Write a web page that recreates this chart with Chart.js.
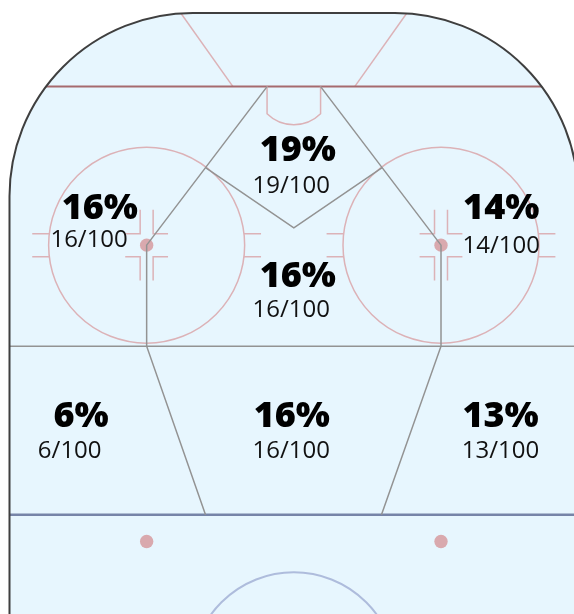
<!DOCTYPE html>
<html><head><meta charset="utf-8">
<script src="https://cdn.jsdelivr.net/npm/chart.js@4.4.1/dist/chart.umd.min.js"></script>
<style>html,body{margin:0;padding:0;background:#fff;}#wrap{width:574px;height:614px;position:relative;}</style>
</head><body><div id="wrap"><canvas id="c"></canvas></div>
<script>
// ---- data ----
const zones = ['Crease', 'Left Circle', 'Right Circle', 'Slot', 'Left Point', 'High Slot', 'Right Point'];
const made = [19, 16, 14, 16, 6, 16, 13];
const attempts = [100, 100, 100, 100, 100, 100, 100];

// ---- label anchors (rink feet) ----
const pctX = [43.1, 13.5, 73.5, 43.1, 10.7, 42.2, 73.4];
const pctY = [22.05, 30.85, 30.8, 40.9, 61.95, 61.95, 61.95];
const fracX = [42.1, 11.9, 73.5, 42.1, 9.0, 42.1, 73.4];
const fracY = [26.9, 34.95, 35.85, 45.45, 66.55, 66.55, 66.55];

// ---- zone boundary polylines (rink feet) ----
const zoneLines = [
  [[38.5, 11], [20.5, 34.7], [20.5, 49.8], [29.3, 75]],
  [[46.5, 11], [64.5, 34.7], [64.5, 49.8], [55.6, 75]],
  [[29.3, 23.1], [42.5, 32.1], [55.7, 23.1]],
  [[0, 49.8], [85, 49.8]]
];

// ---- rink geometry (feet) ----
const RINK_W = 85, CORNER_R = 27.4, GOAL_Y = 11, BLUE_Y = 75;
const FO_X = [20.5, 64.5], FO_Y = 34.7, FO_R = 14.65;
const NZ_Y = 79;

const rinkPlugin = {
  id: 'rink',
  beforeDatasetsDraw(chart) {
    const { ctx, scales: { x, y } } = chart;
    const X = v => x.getPixelForValue(v), Y = v => y.getPixelForValue(v);
    const S = X(1) - X(0);
    const path = () => {
      ctx.beginPath();
      ctx.moveTo(X(0), Y(100));
      ctx.lineTo(X(0), Y(CORNER_R));
      ctx.arc(X(CORNER_R), Y(CORNER_R), CORNER_R * S, Math.PI, 1.5 * Math.PI);
      ctx.lineTo(X(RINK_W - CORNER_R), Y(0));
      ctx.arc(X(RINK_W - CORNER_R), Y(CORNER_R), CORNER_R * S, 1.5 * Math.PI, 2 * Math.PI);
      ctx.lineTo(X(RINK_W), Y(100));
      ctx.closePath();
    };
    ctx.save();
    path();
    ctx.fillStyle = '#e7f6fe';
    ctx.fill();
    ctx.clip();
    const line = (pts, col, w) => {
      ctx.beginPath();
      pts.forEach((p, i) => i ? ctx.lineTo(X(p[0]), Y(p[1])) : ctx.moveTo(X(p[0]), Y(p[1])));
      ctx.strokeStyle = col; ctx.lineWidth = w; ctx.stroke();
    };
    const pink = '#dcb2b7';
    // trapezoid
    line([[25.6, 0], [33.4, GOAL_Y]], pink, 1.5);
    line([[59.4, 0], [51.6, GOAL_Y]], pink, 1.5);
    // goal line
    line([[0, GOAL_Y], [RINK_W, GOAL_Y]], '#a66a6e', 2);
    // crease
    const cr = 5.7, cdy = Math.sqrt(cr * cr - 16);
    ctx.beginPath();
    ctx.moveTo(X(38.5), Y(GOAL_Y));
    ctx.lineTo(X(38.5), Y(GOAL_Y + cdy));
    ctx.arc(X(42.5), Y(GOAL_Y), cr * S, Math.atan2(cdy, -4), Math.atan2(cdy, 4), true);
    ctx.lineTo(X(46.5), Y(GOAL_Y));
    ctx.strokeStyle = pink; ctx.lineWidth = 1.5; ctx.stroke();
    // faceoff circles
    FO_X.forEach(cx => {
      ctx.beginPath();
      ctx.arc(X(cx), Y(FO_Y), FO_R * S, 0, 2 * Math.PI);
      ctx.strokeStyle = pink; ctx.lineWidth = 1.5; ctx.stroke();
      const hy = 1.72;
      [-1, 1].forEach(sx => {
        [-1, 1].forEach(sy => {
          line([[cx + sx * 14.55, FO_Y + sy * hy], [cx + sx * 17.1, FO_Y + sy * hy]], pink, 1.5);
          line([[cx + sx * 0.97, FO_Y + sy * 5.3], [cx + sx * 0.97, FO_Y + sy * hy], [cx + sx * 3.2, FO_Y + sy * hy]], pink, 1.5);
        });
      });
    });
    // dots
    ctx.fillStyle = '#d9a9ae';
    FO_X.forEach(cx => {
      [FO_Y, NZ_Y].forEach(cy => {
        ctx.beginPath(); ctx.arc(X(cx), Y(cy), 1.0 * S, 0, 2 * Math.PI); ctx.fill();
      });
    });
    // blue line
    line([[0, BLUE_Y], [RINK_W, BLUE_Y]], '#7684a8', 2.5);
    // center circle
    ctx.beginPath();
    ctx.arc(X(42.5), Y(98.9), 15.3 * S, 0, 2 * Math.PI);
    ctx.strokeStyle = '#aebcdc'; ctx.lineWidth = 2; ctx.stroke();
    ctx.restore();
    chart.$rinkPath = path;
  },
  afterDatasetsDraw(chart) {
    const { ctx } = chart;
    ctx.save();
    chart.$rinkPath();
    ctx.strokeStyle = '#3f3f3f'; ctx.lineWidth = 2; ctx.stroke();
    const pm = chart.getDatasetMeta(zoneLines.length);
    const fm = chart.getDatasetMeta(zoneLines.length + 1);
    ctx.textAlign = 'center';
    ctx.textBaseline = 'alphabetic';
    made.forEach((m, i) => {
      const pct = Math.round(m / attempts[i] * 100);
      ctx.fillStyle = '#000';
      ctx.font = '800 36px "Open Sans"';
      ctx.fillText(pct + '%', pm.data[i].x, pm.data[i].y);
      ctx.fillStyle = '#111';
      ctx.font = '400 24px "Open Sans"';
      ctx.fillText(m + '/' + attempts[i], fm.data[i].x, fm.data[i].y);
    });
    ctx.restore();
  }
};

const datasets = zoneLines.map(pl => ({
  data: pl.map(p => ({ x: p[0], y: p[1] })),
  showLine: true, borderColor: '#939393', borderWidth: 1.5, pointRadius: 0, tension: 0, fill: false
}));
datasets.push({ label: 'pct', data: zones.map((z, i) => ({ x: pctX[i], y: pctY[i] })), pointRadius: 0, showLine: false });
datasets.push({ label: 'frac', data: zones.map((z, i) => ({ x: fracX[i], y: fracY[i] })), pointRadius: 0, showLine: false });

const PX = 6.69;
new Chart(document.getElementById('c'), {
  type: 'scatter',
  data: { datasets },
  options: {
    responsive: true, maintainAspectRatio: false, animation: false, events: [],
    layout: { padding: 0 },
    plugins: { legend: { display: false }, tooltip: { enabled: false } },
    scales: {
      x: { type: 'linear', display: false, min: -9.5 / PX, max: (574 - 9.5) / PX },
      y: { type: 'linear', display: false, reverse: true, min: -13 / PX, max: (614 - 13) / PX }
    }
  },
  plugins: [rinkPlugin]
});
</script>
</body></html>
